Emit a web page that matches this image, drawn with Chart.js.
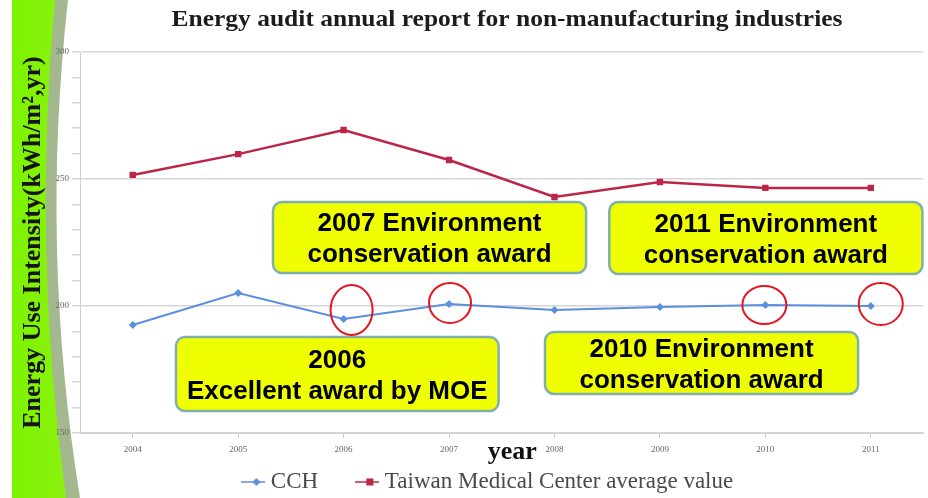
<!DOCTYPE html>
<html>
<head>
<meta charset="utf-8">
<script src="https://cdn.jsdelivr.net/npm/chart.js@4.4.0/dist/chart.umd.min.js"></script>
<style>
  html, body { margin: 0; padding: 0; background: #fff; }
  #wrap { width: 928px; height: 498px; position: relative; }
</style>
</head>
<body>
<div id="wrap"><canvas id="chart"></canvas></div>
<script>
// data
var years = ["2004", "2005", "2006", "2007", "2008", "2009", "2010", "2011"];
var cchValues = [192.5, 205.1, 194.9, 200.8, 198.4, 199.6, 200.4, 200.0];
var medCenterValues = [251.6, 259.8, 269.3, 257.5, 242.9, 248.8, 246.5, 246.5];
var yMajorTicks = [150, 200, 250, 300];
var seriesNames = ["CCH", "Taiwan Medical Center average value"];

// callout boxes, placed in data units (x = category index, y = value)
var callouts = [
  { lines: ["2007 Environment", "conservation award"], x0: 1.33, x1: 4.30, y0: 240.9, y1: 213.0 },
  { lines: ["2011 Environment", "conservation award"], x0: 4.52, x1: 7.49, y0: 240.9, y1: 212.6 },
  { lines: ["2006", "Excellent award by MOE"], x0: 0.41, x1: 3.47, y0: 187.8, y1: 158.7 },
  { lines: ["2010 Environment", "conservation award"], x0: 3.91, x1: 6.88, y0: 189.8, y1: 165.4 }
];
// red rings round CCH points (point index + small pixel nudge)
var rings = [
  { i: 2, dx: 8, dy: -9, rx: 21, ry: 25 },
  { i: 3, dx: 1, dy: -1, rx: 21, ry: 20 },
  { i: 6, dx: -1, dy: 0, rx: 22, ry: 19 },
  { i: 7, dx: 10, dy: -2, rx: 22, ry: 21 }
];

var blue = "#5b8fdf";
var red = "#bd2548";

function legendMarker(color, shape) {
  var c = document.createElement("canvas");
  c.width = 24; c.height = 12;
  var g = c.getContext("2d");
  g.strokeStyle = color; g.fillStyle = color; g.lineWidth = 1.5;
  g.beginPath(); g.moveTo(0, 6); g.lineTo(24, 6); g.stroke();
  if (shape === "diamond") {
    g.beginPath(); g.moveTo(15, 2); g.lineTo(19, 6); g.lineTo(15, 10); g.lineTo(11, 6); g.closePath(); g.fill();
  } else {
    g.fillRect(11, 2.5, 7, 7);
  }
  return c;
}
var markerCCH = legendMarker(blue, "diamond");
var markerMed = legendMarker(red, "square");

// green swoosh on the left and the title
var backdrop = {
  id: "backdrop",
  beforeDraw: function (chart) {
    var ctx = chart.ctx, h = chart.height;
    ctx.save();
    ctx.fillStyle = "#ffffff";
    ctx.fillRect(0, 0, chart.width, h);
    ctx.beginPath();
    ctx.moveTo(12, 0); ctx.lineTo(68, 0);
    ctx.quadraticCurveTo(40, 250, 80, h);
    ctx.lineTo(12, h); ctx.closePath();
    ctx.fillStyle = "#a3b88f";
    ctx.fill();
    ctx.beginPath();
    ctx.moveTo(12, 0); ctx.lineTo(55, 0);
    ctx.quadraticCurveTo(32, 250, 66, h);
    ctx.lineTo(12, h); ctx.closePath();
    var grd = ctx.createLinearGradient(12, 0, 70, 0);
    grd.addColorStop(0, "#7df200");
    grd.addColorStop(1, "#8cf210");
    ctx.fillStyle = grd;
    ctx.fill();

    ctx.fillStyle = "#1c1c1c";
    ctx.font = "bold 23px 'Liberation Serif'";
    ctx.textAlign = "center";
    ctx.textBaseline = "middle";
    var t = "Energy audit annual report for non-manufacturing industries";
    var w = ctx.measureText(t).width;
    ctx.translate(507, 20);
    ctx.scale(671 / w, 1);
    ctx.fillText(t, 0, 0);
    ctx.restore();
  }
};

var overlays = {
  id: "overlays",
  afterDraw: function (chart) {
    var ctx = chart.ctx, xs = chart.scales.x, ys = chart.scales.y, area = chart.chartArea;
    ctx.save();
    // "year" caption sits in the tick row
    ctx.fillStyle = "#111";
    ctx.font = "bold 26px 'Liberation Serif'";
    ctx.textAlign = "center";
    ctx.textBaseline = "middle";
    ctx.fillText("year", xs.getPixelForValue(3.6), area.bottom + 19);

    callouts.forEach(function (b) {
      var x0 = xs.getPixelForValue(b.x0), x1 = xs.getPixelForValue(b.x1);
      var y0 = ys.getPixelForValue(b.y0), y1 = ys.getPixelForValue(b.y1);
      ctx.beginPath();
      ctx.roundRect(x0, y0, x1 - x0, y1 - y0, 9);
      ctx.fillStyle = "#f0ff00";
      ctx.fill();
      ctx.lineWidth = 2.5;
      ctx.strokeStyle = "#7fb0ad";
      ctx.stroke();
      ctx.fillStyle = "#000";
      ctx.font = "bold 26px 'Liberation Sans'";
      var cx = (x0 + x1) / 2, cy = (y0 + y1) / 2;
      var step = 31;
      b.lines.forEach(function (ln, k) {
        ctx.fillText(ln, cx, cy + 2 + (k - (b.lines.length - 1) / 2) * step);
      });
    });

    var pts = chart.getDatasetMeta(0).data;
    ctx.strokeStyle = "#e8141c";
    ctx.lineWidth = 2;
    rings.forEach(function (r) {
      var p = pts[r.i];
      ctx.beginPath();
      ctx.ellipse(p.x + r.dx, p.y + r.dy, r.rx, r.ry, 0, 0, Math.PI * 2);
      ctx.stroke();
    });
    ctx.restore();
  }
};

new Chart(document.getElementById("chart"), {
  type: "line",
  data: {
    labels: years,
    datasets: [
      {
        label: seriesNames[0], data: cchValues,
        borderColor: blue, backgroundColor: blue, borderWidth: 2,
        pointStyle: "rectRot", pointRadius: 4, pointBorderWidth: 0,
        tension: 0
      },
      {
        label: seriesNames[1], data: medCenterValues,
        borderColor: red, backgroundColor: red, borderWidth: 2.5,
        pointStyle: "rect", pointRadius: 4.5, pointBorderWidth: 0,
        tension: 0
      }
    ]
  },
  options: {
    responsive: true,
    maintainAspectRatio: false,
    animation: false,
    layout: { padding: { top: 52, right: 1, left: 0, bottom: -5.5 } },
    scales: {
      x: {
        offset: true,
        grid: { offset: false, drawOnChartArea: false, tickLength: 5, tickColor: "#cfcfcf" },
        border: { color: "#cfcfcf" },
        ticks: { color: "#666", font: { family: "'Liberation Serif'", size: 9 }, padding: 6, maxRotation: 0 },
        afterFit: function (s) { s.height = 23; }
      },
      y: {
        min: yMajorTicks[0], max: yMajorTicks[yMajorTicks.length - 1],
        ticks: {
          stepSize: 10,
          color: "#666",
          font: { family: "'Liberation Serif'", size: 9 },
          padding: 3,
          callback: function (v) { return yMajorTicks.indexOf(v) >= 0 ? v : ""; }
        },
        grid: {
          tickLength: 8,
          tickColor: "#d6d6d6",
          color: function (c) { return c.tick && yMajorTicks.indexOf(c.tick.value) >= 0 ? "#d6d6d6" : "rgba(0,0,0,0)"; },
          lineWidth: 1.5
        },
        border: { color: "#cfcfcf" },
        title: {
          display: true,
          text: "Energy Use Intensity(kWh/m\u00b2,yr)",
          color: "#141414",
          font: { family: "'Liberation Serif'", size: 26, weight: "bold" },
          padding: { top: 17.4, bottom: 0 }
        },
        afterFit: function (s) { s.width = 80; }
      }
    },
    plugins: {
      title: { display: false },
      tooltip: { enabled: false },
      legend: {
        position: "bottom",
        fullSize: false,
        labels: {
          usePointStyle: true,
          pointStyleWidth: 12,
          color: "#4a4a4a",
          font: { family: "'Liberation Serif'", size: 23 },
          padding: 14.5,
          generateLabels: function (chart) {
            var nb = "\u00a0\u00a0\u00a0\u00a0";
            return chart.data.datasets.map(function (ds, i) {
              // no-break spaces widen the gap after the first entry and nudge the row left
              return {
                text: ds.label + (i === 0 ? nb + "\u00a0" : nb),
                pointStyle: i === 0 ? markerCCH : markerMed,
                fillStyle: ds.borderColor, strokeStyle: ds.borderColor,
                fontColor: "#4a4a4a", lineWidth: 0, datasetIndex: i, hidden: false
              };
            });
          }
        }
      }
    }
  },
  plugins: [backdrop, overlays]
});
</script>
</body>
</html>
